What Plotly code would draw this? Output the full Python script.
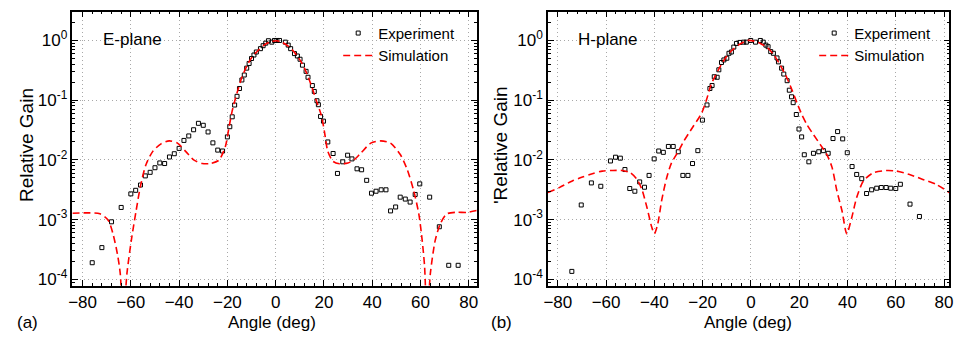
import plotly.graph_objects as go

# ---------------- data ----------------
e_exp_angle = [-76, -72, -68, -64, -60, -58, -56, -54, -52, -50, -48, -46, -44, -42, -40, -38, -36, -34,
               -32, -30, -28, -26, -24, -22, -20, -19, -18, -17, -16, -15, -14, -13, -12, -11, -10, -9, -8,
               -6.3, -5.2, -4.1, -3.0, -1.6, -0.5, 0.5, 1.6, 4.0, 5.2, 6.2, 7.8, 9.0, 10.1, 11.1, 12.6, 13.4,
               15.2, 16.0, 17.1, 17.7, 18.6, 19.8, 21.6, 23.8, 25.6, 27.8, 29.8, 31.6, 33.7, 35.6, 37.7,
               39.7, 41.6, 43.7, 45.7, 47.6, 49.7, 51.6, 53.7, 55.7, 57.8, 59.7, 63.8, 67.8, 71.7, 75.6]
e_exp_gain = [1.9e-4, 3.4e-4, 9.2e-4, 1.6e-3, 2.7e-3, 3.1e-3, 3.8e-3, 5.4e-3, 6.2e-3, 7.4e-3, 8.9e-3,
              8.7e-3, 0.0112, 0.0127, 0.0156, 0.0212, 0.0252, 0.032, 0.041, 0.038, 0.0294, 0.0193, 0.0146,
              0.0141, 0.0243, 0.036, 0.0527, 0.083, 0.116, 0.157, 0.218, 0.264, 0.344, 0.412, 0.499, 0.571,
              0.641, 0.729, 0.817, 0.902, 0.99, 0.937, 1.0, 1.0, 1.0, 0.937, 0.836, 0.729, 0.603, 0.55,
              0.485, 0.386, 0.304, 0.242, 0.176, 0.14, 0.098, 0.084, 0.0534, 0.0446, 0.020, 0.0128,
              5.94e-3, 9.3e-3, 0.012, 0.0104, 7.1e-3, 6.84e-3, 4.55e-3, 2.77e-3, 2.99e-3, 3.16e-3,
              3.16e-3, 1.4e-3, 1.63e-3, 2.38e-3, 2.21e-3, 1.97e-3, 2.64e-3, 3.97e-3, 2.38e-3, 7.6e-4,
              1.72e-4, 1.72e-4]

e_sim_angle = [-84.2, -78, -72.8, -69.4, -67.4, -65.6, -64.4, -63.2, -61.6, -59.8, -57.8, -56.0, -53.7,
               -50.9, -47.5, -44.1, -40.7, -37.3, -33.8, -30.4, -27.0, -23.5, -20.8, -19.4, -18.1, -16.7,
               -15.3, -14.0, -11.9, -9.9, -7.1, -4.4, -1.6, 0.4, 2.5, 5.2, 7.9, 10.7, 12.7, 14.8, 16.8,
               18.9, 20.2, 21.6, 23.7, 26.4, 29.9, 32.6, 35.3, 39.4, 43.5, 47.6, 51.7, 54.5, 57.2, 59.3,
               60.7, 61.7, 62.7, 64.1, 66.1, 68.2, 70.9, 75.0, 79.1, 83.3]
e_sim_gain = [1.28e-3, 1.3e-3, 1.25e-3, 9.8e-4, 5.8e-4, 2.7e-4, 1.27e-4, 2e-5, 1.27e-4, 4.5e-4, 1.42e-3,
              3.67e-3, 8.4e-3, 0.0139, 0.0186, 0.0208, 0.0191, 0.0139, 9.9e-3, 8.7e-3, 8.7e-3, 9.9e-3,
              0.017, 0.0338, 0.0638, 0.106, 0.165, 0.242, 0.376, 0.518, 0.691, 0.859, 0.963, 0.99, 0.937,
              0.805, 0.626, 0.428, 0.292, 0.176, 0.0993, 0.0561, 0.0298, 0.0139, 9.5e-3, 8.6e-3, 8.9e-3,
              0.0101, 0.013, 0.0191, 0.0208, 0.0191, 0.0122, 6.9e-3, 3.04e-3, 1.25e-3, 4.5e-4, 1.64e-4,
              2e-5, 1.27e-4, 4.5e-4, 8.5e-4, 1.25e-3, 1.33e-3, 1.32e-3, 1.42e-3]

h_exp_angle = [-74.2, -70.3, -66.1, -62.2, -58.2, -56.1, -54.1, -52.2, -50.2, -48.1, -46.1, -44.1, -42.2,
               -40.1, -38.2, -36.3, -34.2, -32.2, -30.1, -28.2, -26.1, -24.2, -22.0, -20.1, -18.2, -17.0,
               -16.1, -15.2, -14.0, -13.3, -12.2, -11.2, -10.0, -9.1, -8.1, -7.1, -6.0, -4.6, -3.0, -1.9,
               -0.1, 1.9, 3.9, 5.1, 6.2, 7.1, 8.2, 9.3, 10.8, 11.4, 12.7, 13.6, 15.0, 15.9, 16.8, 17.5,
               18.8, 19.9, 21.0, 22.1, 24.0, 25.9, 28.1, 30.0, 32.0, 34.0, 35.9, 38.0, 39.9, 41.9, 43.8,
               45.9, 47.9, 50.0, 52.1, 54.0, 56.0, 57.9, 60.0, 61.9, 65.9, 69.8]
h_exp_gain = [1.36e-4, 1.76e-3, 4.12e-3, 3.62e-3, 9.6e-3, 0.0111, 0.0107, 6.9e-3, 3.32e-3, 2.99e-3,
              4.28e-3, 3.49e-3, 5.5e-3, 0.0104, 0.0141, 0.0134, 0.0168, 0.0168, 0.0137, 5.5e-3, 5.5e-3,
              8.7e-3, 0.0143, 0.0464, 0.0833, 0.157, 0.176, 0.247, 0.242, 0.323, 0.428, 0.472, 0.504,
              0.61, 0.641, 0.775, 0.892, 0.927, 0.937, 0.937, 1.0, 0.937, 1.0, 0.937, 0.836, 0.787,
              0.651, 0.61, 0.51, 0.438, 0.344, 0.274, 0.212, 0.147, 0.114, 0.091, 0.0576, 0.0329,
              0.0243, 0.0122, 9.3e-3, 0.0129, 0.0137, 0.0143, 0.0129, 0.0228, 0.0298, 0.0225, 0.0132,
              7.75e-3, 5.71e-3, 4.85e-3, 2.74e-3, 3.16e-3, 3.36e-3, 3.45e-3, 3.45e-3, 3.36e-3,
              3.32e-3, 3.91e-3, 1.82e-3, 1.13e-3]

h_sim_angle = [-84.1, -79.4, -74.0, -69.8, -65.7, -61.6, -57.5, -53.4, -50.0, -47.2, -45.2, -43.1, -41.1,
               -40.0, -38.6, -37.0, -34.9, -32.9, -30.1, -28.0, -26.0, -24.0, -20.5, -18.5, -16.4, -13.7,
               -10.9, -8.2, -4.8, -1.4, 1.4, 4.1, 6.9, 9.6, 12.3, 15.1, 17.1, 19.2, 21.2, 23.3, 26.0,
               28.8, 31.5, 33.6, 35.6, 37.7, 39.7, 41.8, 43.8, 46.6, 50.7, 56.2, 60.3, 65.7, 71.2, 76.7,
               82.2]
h_sim_gain = [2.85e-3, 3.44e-3, 4.45e-3, 5.18e-3, 5.87e-3, 6.5e-3, 6.65e-3, 6.65e-3, 6.1e-3, 4.72e-3,
              3.23e-3, 1.61e-3, 7.5e-4, 5.8e-4, 8.5e-4, 2.08e-3, 5.04e-3, 8.9e-3, 0.0139, 0.020, 0.027,
              0.036, 0.0598, 0.099, 0.187, 0.311, 0.485, 0.666, 0.859, 1.0, 0.974, 0.882, 0.757, 0.565,
              0.376, 0.227, 0.145, 0.0875, 0.0561, 0.0384, 0.0262, 0.0179, 0.0122, 7.5e-3, 3.04e-3,
              1.42e-3, 5.8e-4, 1.1e-3, 2.35e-3, 4.45e-3, 6.1e-3, 6.65e-3, 6.5e-3, 5.7e-3, 4.72e-3,
              3.9e-3, 2.85e-3]

x_ticks = [-80, -60, -40, -20, 0, 20, 40, 60, 80]
y_tickvals = [1e-4, 1e-3, 1e-2, 1e-1, 1]
y_ticktext = ["10<sup>-4</sup>", "10<sup>-3</sup>", "10<sup>-2</sup>", "10<sup>-1</sup>", "10<sup>0</sup>"]
y_minor = [k * 10.0 ** e for e in range(-5, 1) for k in range(2, 10)]

FONT = "Liberation Sans, Arial, sans-serif"

fig = go.Figure()

def add_panel(ax, ang_e, g_e, ang_s, g_s, leg):
    xa = "x" if ax == 1 else "x2"
    ya = "y" if ax == 1 else "y2"
    fig.add_trace(go.Scatter(x=ang_e, y=g_e, mode="markers", name="Experiment",
                             marker=dict(symbol="square-open", size=4, color="black",
                                         line=dict(width=1, color="black")),
                             xaxis=xa, yaxis=ya, legend=leg))
    fig.add_trace(go.Scatter(x=ang_s, y=g_s, mode="lines", name="Simulation",
                             line=dict(color="#ff0000", width=1.6, dash="7px,4px",
                                       shape="spline", smoothing=0.7),
                             xaxis=xa, yaxis=ya, legend=leg))

add_panel(1, e_exp_angle, e_exp_gain, e_sim_angle, e_sim_gain, "legend")
add_panel(2, h_exp_angle, h_exp_gain, h_sim_angle, h_sim_gain, "legend2")

GRID = dict(showgrid=True, gridcolor="#a8a8a8", griddash="1px,3px", gridwidth=1)

def xaxis(domain, rng):
    return dict(domain=domain, range=rng, tickmode="array", tickvals=x_ticks,
                ticks="inside", ticklen=6, tickwidth=1, tickcolor="black",
                minor=dict(ticks="inside", tick0=-80, dtick=4, ticklen=3, tickcolor="black"),
                showline=True, linecolor="black", linewidth=1.5, mirror="allticks",
                zeroline=False, tickfont=dict(family=FONT, size=17, color="black"), **GRID)

def yaxis(domain, anchor):
    return dict(domain=domain, type="log", range=[-4.104, 0.484], anchor=anchor,
                tickmode="array", tickvals=y_tickvals, ticktext=y_ticktext,
                ticks="inside", ticklen=6, tickwidth=1, tickcolor="black",
                minor=dict(ticks="inside", tickmode="array", tickvals=y_minor, ticklen=3,
                           tickcolor="black"),
                showline=True, linecolor="black", linewidth=1.5, mirror="allticks",
                zeroline=False, tickfont=dict(family=FONT, size=17, color="black"), **GRID)

ydom = [49 / 338, 326.3 / 338]
fig.update_layout(
    width=961, height=338,
    margin=dict(l=0, r=0, t=0, b=0),
    paper_bgcolor="white", plot_bgcolor="white",
    font=dict(family=FONT, size=15, color="black"),
    xaxis=xaxis([69 / 961, 476.7 / 961], [-84.2, 83.3]) | dict(anchor="y"),
    yaxis=yaxis(ydom, "x"),
    xaxis2=xaxis([548.5 / 961, 953.3 / 961], [-84.1, 82.2]) | dict(anchor="y2"),
    yaxis2=yaxis(ydom, "x2"),
    legend=dict(x=337 / 961, y=1 - 17 / 338, xanchor="left", yanchor="top",
                bgcolor="rgba(0,0,0,0)", font=dict(family=FONT, size=15), tracegroupgap=0),
    legend2=dict(x=817 / 961, y=1 - 17 / 338, xanchor="left", yanchor="top",
                 bgcolor="rgba(0,0,0,0)", font=dict(family=FONT, size=15), tracegroupgap=0),
    showlegend=True,
)

def ann(text, x, y, size=17, angle=0, xanchor="center"):
    fig.add_annotation(text=text, x=x / 961, y=1 - y / 338, xref="paper", yref="paper",
                       showarrow=False, textangle=angle, xanchor=xanchor, yanchor="middle",
                       font=dict(family=FONT, size=size, color="black"))

ann("E-plane", 98, 40, size=17, xanchor="left")
ann("H-plane", 577, 40, size=17, xanchor="left")
ann("Relative Gain", 22, 147, size=19, angle=-90)
ann("'Relative Gain", 500, 147, size=19, angle=-90)
ann("Angle (deg)", 270, 326)
ann("Angle (deg)", 750, 326)
ann("(a)", 24, 326)
ann("(b)", 502, 326)

fig.write_html("out.html", config={"displayModeBar": False},
               post_script="document.body.style.margin='0';document.body.style.overflow='hidden';")
